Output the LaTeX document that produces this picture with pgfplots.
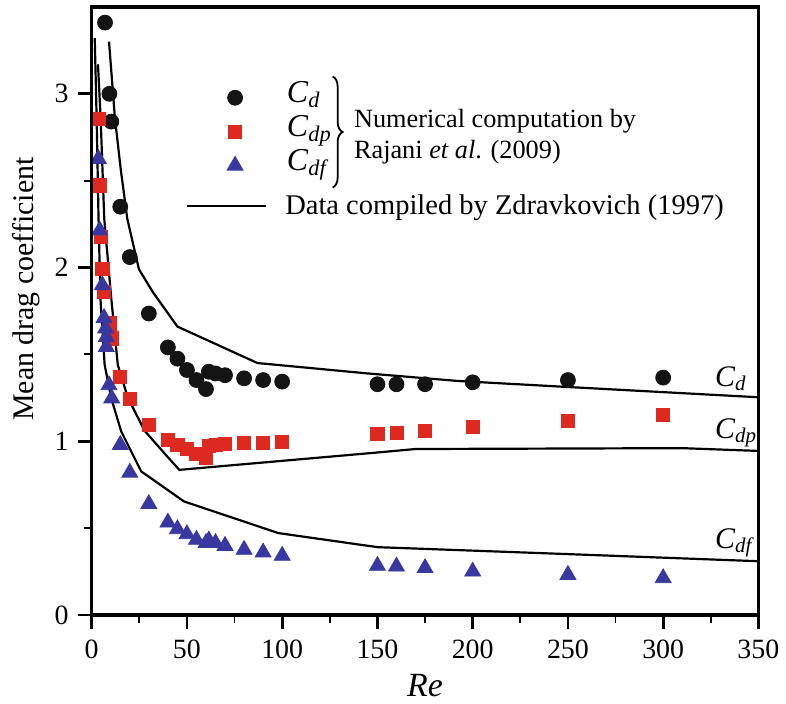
\documentclass[border=0pt]{standalone}
\usepackage{fontspec}
\setmainfont{Liberation Serif}
\usepackage{pgfplots}
\pgfplotsset{compat=1.18}
\usetikzlibrary{decorations.pathreplacing}
\definecolor{cdred}{RGB}{222,41,33}
\definecolor{cdblue}{RGB}{56,56,160}
\definecolor{cdblack}{RGB}{20,20,20}

\begin{document}
\begin{tikzpicture}
\begin{axis}[
  name=main,
  width=334.5pt, height=305pt, scale only axis,
  xmin=0, xmax=350, ymin=0, ymax=3.5,
  xtick={0,50,...,350}, minor xtick={25,75,...,325},
  ytick={0,1,2,3}, minor ytick={0.5,1.5,2.5},
  tick align=outside, tick pos=left,
  major tick length=7pt, minor tick length=4pt,
  axis line style={line width=1.8pt},
  major tick style={line width=1.4pt, black},
  minor tick style={line width=0.9pt, black},
  axis on top,
  clip marker paths=true,
  tick label style={font=\fontsize{14}{16}\selectfont},
  xticklabel style={yshift=-2pt},
  yticklabel style={xshift=-1pt},
  /pgf/number format/assume math mode=true,
  xlabel={\textit{Re}}, ylabel={Mean drag coefficient},
  xlabel style={font=\fontsize{17}{20}\selectfont, yshift=-1pt},
  ylabel style={font=\fontsize{15}{18}\selectfont,
    at={(axis description cs:-0.0987,0.536)}, anchor=center},
  legend cell align=left,
  legend style={draw=none, fill=none, inner sep=0pt, row sep=0pt,
    column sep=21pt,
    at={(axis cs:70.9,2.782)}, anchor=west,
    font=\fontsize{16}{18}\selectfont,
    nodes={inner sep=1pt, text height=10pt, text depth=5pt}},
]
% Zdravkovich (1997) curves
\addplot[black, line width=1.1pt, forget plot] coordinates {
 (9.1,3.30) (12.2,2.86) (15.2,2.57) (18.7,2.28) (24.8,1.99) (32,1.86) (45,1.66)
 (87,1.45) (145,1.39) (192,1.347) (250,1.312) (350,1.253)};
\addplot[black, line width=1.1pt, forget plot] coordinates {
 (3.3,3.17) (4.7,2.86) (6.6,2.28) (10.3,1.82) (13.7,1.44) (19,1.25) (27.8,1.06)
 (39,0.92) (46,0.835) (150,0.935) (170,0.955) (310,0.96) (350,0.944)};
\addplot[black, line width=1.1pt, forget plot] coordinates {
 (1.6,3.32) (2.6,2.86) (3.6,2.28) (4.6,1.82) (6.8,1.44) (10.2,1.25) (15.5,1.056)
 (26,0.826) (48.5,0.653) (98,0.471) (150,0.39) (250,0.35) (350,0.309)};
% Rajani et al. (2009)
\addplot[only marks, mark=*, mark size=3.75pt, color=cdblack] coordinates {
 (7,3.41) (9.3,3.0) (10.3,2.84) (15,2.35) (20,2.06) (30,1.735) (40,1.54) (45,1.475)
 (50,1.41) (55,1.352) (60,1.30) (61.5,1.40) (65,1.39) (70,1.38) (80,1.362) (90,1.352)
 (100,1.343) (150,1.328) (160,1.328) (175,1.328) (200,1.339) (250,1.352) (300,1.366)};
\addlegendentry{\textit{C}\textsubscript{\textit{d}}}
\addplot[only marks, mark=square*, mark size=3.3pt, color=cdred] coordinates {
 (3.5,2.857) (4.2,2.473) (4.7,2.176) (5.6,1.994) (6.5,1.86) (9.7,1.678) (10.6,1.592)
 (15,1.372) (20,1.243) (30,1.094) (40,1.008) (45,0.979) (50,0.955) (55,0.928)
 (60,0.902) (61.5,0.975) (65,0.98) (70,0.985) (80,0.989) (90,0.992) (100,0.998)
 (150,1.04) (160,1.048) (175,1.059) (200,1.08) (250,1.119) (300,1.151)};
\addlegendentry{\textit{C}\textsubscript{\textit{dp}}}
\addplot[only marks, mark=triangle*, mark size=4.6pt, color=cdblue] coordinates {
 (3.5,2.626) (4.2,2.214) (5.6,1.898) (6.5,1.71) (7.3,1.65) (7.7,1.60) (7.7,1.543)
 (9.1,1.323) (10.5,1.247) (15,0.979) (20,0.819) (30,0.639) (40,0.532) (45,0.494)
 (50,0.465) (55,0.433) (60,0.414) (61.5,0.429) (65,0.414) (70,0.398) (80,0.375)
 (90,0.36) (100,0.341) (150,0.283) (160,0.279) (175,0.27) (200,0.25) (250,0.231)
 (300,0.212)};
\addlegendentry{\textit{C}\textsubscript{\textit{df}}}
% annotations
\draw[decorate, decoration={brace, amplitude=5pt}, line width=0.9pt]
  (axis cs:126.5,3.10) -- (axis cs:126.5,2.46);
\node[anchor=west, align=left, inner sep=0pt, font=\fontsize{13.2}{15.5}\selectfont]
  at (axis cs:137.5,2.755) {Numerical computation by\\Rajani \textit{et al}. (2009)};
\node[anchor=base west, inner sep=0pt, font=\fontsize{15}{17}\selectfont]
  at (axis cs:327,1.316) {\textit{C}\textsubscript{\textit{d}}};
\node[anchor=base west, inner sep=0pt, font=\fontsize{15}{17}\selectfont]
  at (axis cs:327,1.017) {\textit{C}\textsubscript{\textit{dp}}};
\node[anchor=base west, inner sep=0pt, font=\fontsize{15}{17}\selectfont]
  at (axis cs:327,0.385) {\textit{C}\textsubscript{\textit{df}}};
\end{axis}
\begin{axis}[
  at={(main.south west)}, anchor=south west,
  width=334.5pt, height=305pt, scale only axis,
  xmin=0, xmax=350, ymin=0, ymax=3.5, hide axis,
  legend cell align=left,
  legend image code/.code={\draw[#1] (0pt,0pt) -- (40pt,0pt);},
  legend style={draw=none, fill=none, inner sep=0pt, column sep=7pt,
    at={(axis cs:49,2.354)}, anchor=west,
    font=\fontsize{14.3}{16}\selectfont,
    nodes={inner sep=2pt}},
]
\addlegendimage{black, line width=1.1pt}
\addlegendentry{Data compiled by Zdravkovich (1997)}
\end{axis}
\path (main.south west) ++(-46pt,-43pt);
\path (main.north east) ++(12.5pt,3.5pt);
\end{tikzpicture}
\end{document}
